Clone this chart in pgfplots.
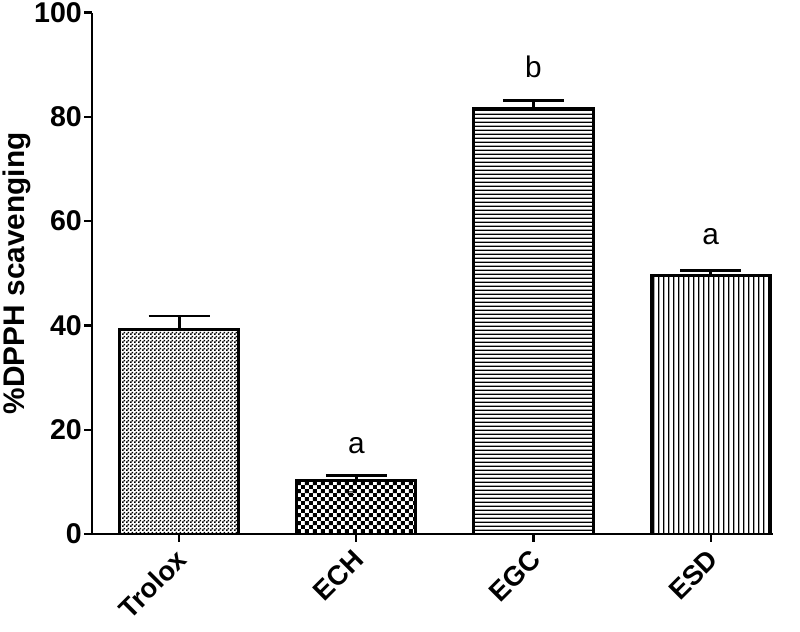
\documentclass[border=0pt]{standalone}
\usepackage{pgfplots}
\pgfplotsset{compat=1.18}
\usepackage{fontspec}
\setmainfont{Liberation Sans}
\usetikzlibrary{patterns}

% bar fills
\pgfdeclarepatternformonly{finechecker}{\pgfpointorigin}{\pgfqpoint{1.4pt}{1.4pt}}{\pgfqpoint{1.4pt}{1.4pt}}{%
  \pgfpathrectangle{\pgfpointorigin}{\pgfqpoint{0.7pt}{0.7pt}}%
  \pgfpathrectangle{\pgfqpoint{0.7pt}{0.7pt}}{\pgfqpoint{0.7pt}{0.7pt}}%
  \pgfusepath{fill}}
\pgfdeclarepatternformonly{coarsechecker}{\pgfpointorigin}{\pgfqpoint{3.2pt}{3.2pt}}{\pgfqpoint{3.2pt}{3.2pt}}{%
  \pgfpathrectangle{\pgfpointorigin}{\pgfqpoint{1.6pt}{1.6pt}}%
  \pgfpathrectangle{\pgfqpoint{1.6pt}{1.6pt}}{\pgfqpoint{1.6pt}{1.6pt}}%
  \pgfusepath{fill}}
\pgfdeclarepatternformonly{hlines}{\pgfpointorigin}{\pgfqpoint{60pt}{1.8pt}}{\pgfqpoint{60pt}{1.8pt}}{%
  \pgfpathrectangle{\pgfpointorigin}{\pgfqpoint{60pt}{0.6pt}}%
  \pgfusepath{fill}}
\pgfdeclarepatternformonly{vlines}{\pgfpointorigin}{\pgfqpoint{1.8pt}{60pt}}{\pgfqpoint{1.8pt}{60pt}}{%
  \pgfpathrectangle{\pgfpointorigin}{\pgfqpoint{0.6pt}{60pt}}%
  \pgfusepath{fill}}

\begin{document}
\begin{tikzpicture}
\begin{axis}[
    scale only axis,
    width=274pt,
    height=210pt,
    ybar,
    bar width=48pt,
    bar shift=0pt,
    axis lines*=left,
    axis line style={line width=0.9pt},
    tick style={line width=0.9pt,black},
    major tick length=3.2pt,
    tick align=outside,
    ymin=0,ymax=100,
    ytick={0,20,...,100},
    xmin=-0.49,xmax=3.35,
    xtick={0,1,2,3},
    xticklabels={Trolox,ECH,EGC,ESD},
    x tick label style={rotate=45,anchor=east,font=\bfseries\fontsize{11}{12}\selectfont,yshift=-4.5pt,xshift=0.5pt},
    y tick label style={font=\bfseries\fontsize{11.5}{12}\selectfont,/pgf/number format/assume math mode=true,xshift=2.5pt,inner ysep=1pt},
    ylabel={\%DPPH scavenging},
    ylabel style={font=\bfseries\fontsize{12}{13}\selectfont,inner sep=1pt},
    ylabel shift=-3pt,
    every axis plot/.append style={draw=black,line width=1.2pt},
    error bars/y dir=plus,
    error bars/y explicit,
    error bars/error bar style={line width=1.1pt},
    error bars/error mark options={rotate=90,line width=1.1pt,mark size=12.3pt},
    clip=false
]
\addplot[pattern=finechecker] coordinates {(0,39.3) +- (0,2.5)};
\addplot[pattern=coarsechecker] coordinates {(1,10.3) +- (0,0.9)};
\addplot[pattern=hlines] coordinates {(2,81.6) +- (0,1.6)};
\addplot[pattern=vlines] coordinates {(3,49.5) +- (0,1.1)};
\node[font=\fontsize{12}{13}\selectfont] at (axis cs:1,17) {a};
\node[font=\fontsize{12}{13}\selectfont] at (axis cs:2,89.6) {b};
\node[font=\fontsize{12}{13}\selectfont] at (axis cs:3,57) {a};
\node[font=\fontsize{6}{7}\selectfont] at (axis cs:0.97,7.9) {e};
\end{axis}
\path ([xshift=11pt]current axis.east);
\end{tikzpicture}
\end{document}
